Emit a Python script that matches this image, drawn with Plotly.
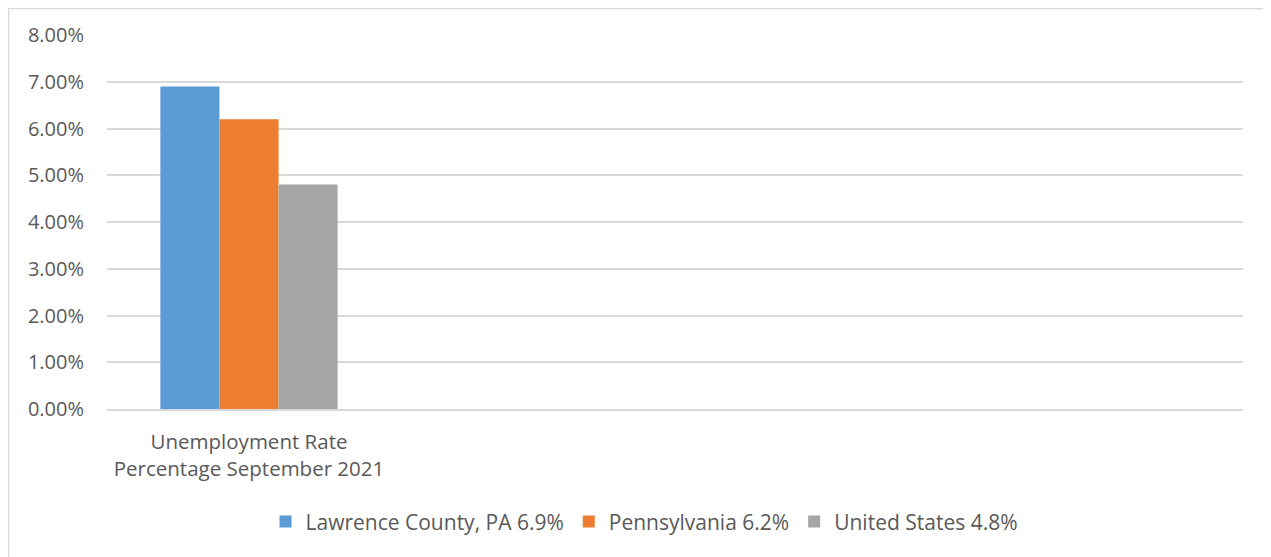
import plotly.graph_objects as go

categories = ["Unemployment Rate<br>Percentage September 2021"]
series_names = ["Lawrence County, PA 6.9%", "Pennsylvania 6.2%", "United States 4.8%"]
series_values = [[0.069], [0.062], [0.048]]
colors = ["#5B9BD5", "#ED7D31", "#A5A5A5"]
y_ticks = [0, 0.01, 0.02, 0.03, 0.04, 0.05, 0.06, 0.07, 0.08]

FONT = "Open Sans, Liberation Sans, sans-serif"
TEXT = "#595959"
GRID = "#d9d9d9"

# the page body keeps an 8px margin, so the figure is 8px smaller than the window
W, H = 1263, 549
L, R, T, B = 99, 28, 27, 148
plot_w = W - L - R
plot_h = H - T - B

fig = go.Figure()
for name, vals, color in zip(series_names, series_values, colors):
    fig.add_trace(go.Bar(x=categories, y=vals, name=name, marker_color=color, marker_line_width=0))

fig.update_layout(
    width=W,
    height=H,
    margin={"l": L, "r": R, "t": T, "b": B},
    barmode="group",
    bargap=0.376,
    bargroupgap=0,
    plot_bgcolor="white",
    paper_bgcolor="white",
    font={"family": FONT, "size": 20, "color": TEXT},
    showlegend=True,
    legend={
        "orientation": "h",
        "xref": "container",
        "yref": "container",
        "x": 0.5036,
        "xanchor": "center",
        "y": 0.064,
        "yanchor": "middle",
        "font": {"family": FONT, "size": 21, "color": TEXT},
        "tracegroupgap": 0,
    },
    shapes=[
        {
            "type": "rect",
            "xref": "paper",
            "yref": "paper",
            "x0": (0.5 - L) / plot_w,
            "x1": 1.5,
            "y0": -2,
            "y1": (plot_h + T - 0.5) / plot_h,
            "line": {"color": GRID, "width": 1.5},
            "layer": "below",
        }
    ],
)
fig.update_xaxes(
    type="category",
    range=[-0.5, 3.5],
    showgrid=False,
    showline=True,
    linecolor=GRID,
    linewidth=1.5,
    ticks="",
    ticklabelstandoff=14,
    tickfont={"family": FONT, "size": 20.5, "color": TEXT},
)
fig.update_yaxes(
    range=[0, 0.08],
    tickvals=y_ticks,
    tickformat=".2%",
    showgrid=True,
    gridcolor=GRID,
    gridwidth=1.5,
    zeroline=False,
    showline=False,
    ticks="",
    ticklabelstandoff=22,
    tickfont={"family": FONT, "size": 20, "color": TEXT},
)

fig.write_html("out.html")
